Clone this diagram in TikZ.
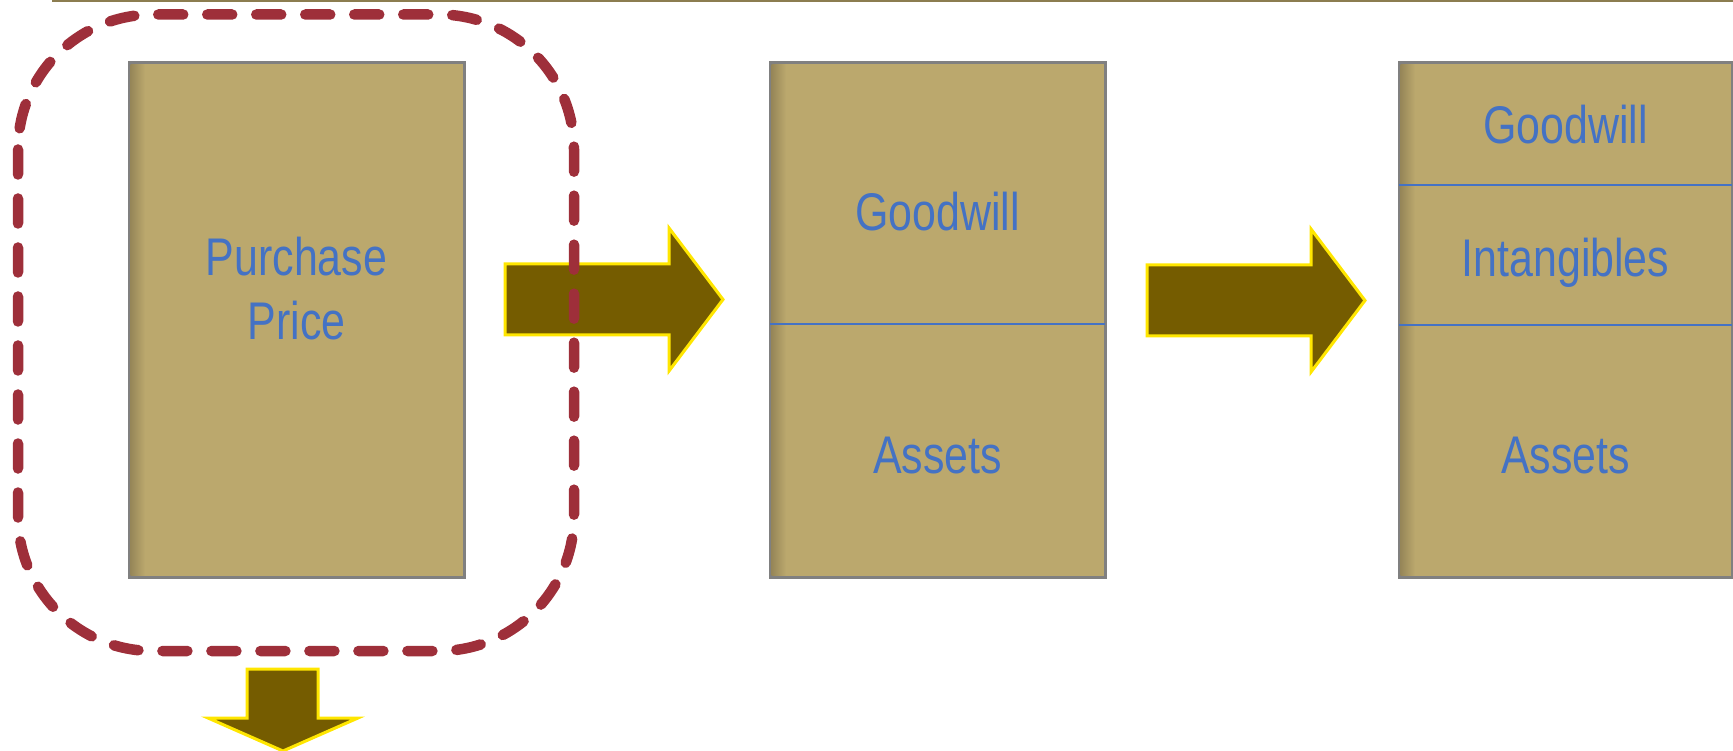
\documentclass[tikz,border=0pt]{standalone}
\usepackage{fontspec}
\newfontfamily\narrowfont{Liberation Sans}[FakeStretch=0.81]

\definecolor{boxtan}{RGB}{187,168,109}
\definecolor{boxshade}{RGB}{150,134,88}
\definecolor{boxgray}{RGB}{128,128,128}
\definecolor{labelblue}{RGB}{68,114,196}
\definecolor{arrowfill}{RGB}{117,92,0}
\definecolor{arrowedge}{RGB}{255,230,0}
\definecolor{dashred}{RGB}{158,47,58}
\definecolor{rulecolor}{RGB}{140,125,80}

\begin{document}
\begin{tikzpicture}[x=1pt,y=-1pt,
    tanbox/.style={draw=boxgray, line width=3pt, fill=boxtan, outer sep=0pt,
                   inner sep=0pt, minimum width=335pt, minimum height=514pt},
    boxlabel/.style={text=labelblue, font=\narrowfont\fontsize{53pt}{64pt}\selectfont,
                     inner sep=0pt, align=center},
    divider/.style={draw=labelblue, line width=2.2pt},
    blockarrow/.style={fill=arrowfill, draw=arrowedge, line width=3pt, line join=miter},
    dashbox/.style={draw=dashred, line width=10.5pt, line cap=round,
                    dash pattern=on 25pt off 24pt, rounded corners=135pt}]
    \useasboundingbox (0,0) rectangle (1733,751);

    % rule along the top
    \draw[rulecolor, line width=2pt] (52,1) -- (1733,1);

    % the three boxes
    \node[tanbox] (price) at (296.5,320) {};
    \node[tanbox] (split) at (937.5,320) {};
    \node[tanbox, minimum width=333pt] (alloc) at (1565.5,320) {};
    \foreach \b in {price,split,alloc}
        \shade[left color=boxshade, right color=boxtan]
            ([xshift=1.5pt,yshift=-1.5pt]\b.north west) rectangle ([xshift=16pt,yshift=1.5pt]\b.south west);

    \draw[divider] (770,324) -- (1105,324);
    \draw[divider] (1399,185) -- (1732,185);
    \draw[divider] (1399,325) -- (1732,325);

    \node[boxlabel] (pp) at (296.5,289) {Purchase\\Price};
    \node[boxlabel, anchor=base] (gw) at (937.5,231) {Goodwill};
    \node[boxlabel, anchor=base] (as) at (937.5,473) {Assets};
    \node[boxlabel, anchor=base] (gw2) at (1565.5,144) {Goodwill};
    \node[boxlabel, anchor=base] (intang) at (1565.5,277) {Intangibles};
    \node[boxlabel, anchor=base] (as2) at (1565.5,473) {Assets};

    % block arrows
    \draw[blockarrow] (505,264) -- (669,264) -- (669,228) -- (723,299.5)
        -- (669,371) -- (669,335) -- (505,335) -- cycle;
    \draw[blockarrow] (1147,265) -- (1311,265) -- (1311,229) -- (1365,300.5)
        -- (1311,372) -- (1311,336) -- (1147,336) -- cycle;
    \draw[blockarrow] (247,669) -- (318,669) -- (318,718) -- (358,718)
        -- (283,751) -- (208,718) -- (247,718) -- cycle;

    % dashed frame round the purchase price
    \draw[dashbox] (18,14.5) rectangle (574,651);
\end{tikzpicture}
\end{document}
